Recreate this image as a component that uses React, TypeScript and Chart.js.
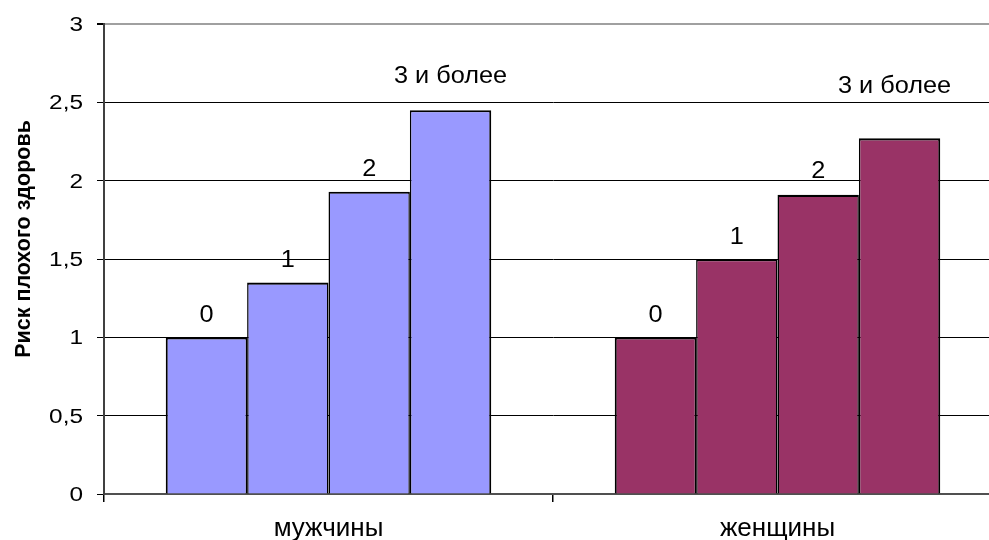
import { useEffect, useRef } from 'react';
import { Chart, registerables } from 'chart.js';

Chart.register(...registerables);

// Health-risk ratios by sex and number of risk factors
const categories = ['мужчины', 'женщины'];
const riskGroups = ['0', '1', '2', '3 и более'];
const menRisk = [1.0, 1.35, 1.93, 2.45];
const womenRisk = [1.0, 1.5, 1.91, 2.27];
const yTickLabels = ['0', '0,5', '1', '1,5', '2', '2,5', '3'];
const yAxisTitle = 'Риск плохого здоровь';

const FONT = '"Liberation Sans", Arial, sans-serif';
const sexColors = ['#9999FF', '#993366'];

// distance of each group label above its bar top, and horizontal nudges
const labelLift = [
  [24, 24, 24, 35],
  [24, 23, 25, 54],
];
const labelShift = [
  [0, 0, 0, 0],
  [0, 0, 0, -5],
];

function drawText(
  ctx: CanvasRenderingContext2D,
  text: string,
  x: number,
  y: number,
  font: string,
  align: CanvasTextAlign,
  sx: number
) {
  ctx.save();
  ctx.translate(x, y);
  ctx.scale(sx, 1);
  ctx.font = font;
  ctx.fillStyle = '#000';
  ctx.textAlign = align;
  ctx.textBaseline = 'alphabetic';
  ctx.fillText(text, 0, 0);
  ctx.restore();
}

const textPlugin = {
  id: 'chartText',
  afterDatasetsDraw(chart: any) {
    const ctx: CanvasRenderingContext2D = chart.ctx;
    const area = chart.chartArea;
    const yScale = chart.scales.y;
    const xScale = chart.scales.x;

    // value axis labels
    const tickSize = 19.5;
    yScale.ticks.forEach((t: any, i: number) => {
      const py = yScale.getPixelForValue(t.value);
      drawText(ctx, yTickLabels[i], area.left - 21, py + 0.358 * tickSize, `${tickSize}px ${FONT}`, 'right', 1.25);
    });

    // category labels
    categories.forEach((c, i) => {
      const px = xScale.getPixelForValue(i);
      drawText(ctx, c, px, area.bottom + 42, `26px ${FONT}`, 'center', 1);
    });

    // group labels above bars
    const lblSize = 23;
    riskGroups.forEach((g, i) => {
      const meta = chart.getDatasetMeta(i);
      meta.data.forEach((bar: any, j: number) => {
        const cy = bar.y - labelLift[j][i];
        drawText(ctx, g, bar.x + labelShift[j][i], cy + 0.358 * lblSize, `${lblSize}px ${FONT}`, 'center', 1.1);
      });
    });

    // rotated value-axis title
    ctx.save();
    ctx.translate(29.5, area.top + 215);
    ctx.rotate(-Math.PI / 2);
    ctx.font = `bold 21.5px ${FONT}`;
    ctx.fillStyle = '#000';
    ctx.textAlign = 'center';
    ctx.textBaseline = 'alphabetic';
    ctx.fillText(yAxisTitle, 0, 0);
    ctx.restore();
  },
};

export default function App() {
  const canvasRef = useRef<HTMLCanvasElement | null>(null);

  useEffect(() => {
    if (!canvasRef.current) return;
    const last = riskGroups.length - 1;
    const datasets = riskGroups.map((g, i) => ({
      label: g,
      data: [menRisk[i], womenRisk[i]],
      backgroundColor: sexColors,
      borderColor: '#000',
      borderWidth: { top: 2.2, left: i === 0 ? 2 : 1.5, right: i === last ? 2 : 1.5, bottom: 0 },
      inflateAmount: 0,
      categoryPercentage: 0.725,
      barPercentage: 1,
    }));

    const chart = new Chart(canvasRef.current, {
      type: 'bar',
      data: { labels: categories, datasets },
      plugins: [textPlugin],
      options: {
        animation: false,
        responsive: false,
        devicePixelRatio: 1,
        layout: { padding: { top: 24, left: 0, right: 0, bottom: 0 } },
        plugins: {
          legend: { display: false },
          tooltip: { enabled: false },
        },
        scales: {
          x: {
            ticks: { display: false },
            grid: {
              display: true,
              offset: true,
              drawOnChartArea: false,
              drawTicks: true,
              tickLength: 8,
              color: '#000',
              lineWidth: 1.5,
            },
            border: { display: true, color: '#505050', width: 2 },
            afterFit: (scale: any) => {
              scale.height = 46;
            },
          },
          y: {
            min: 0,
            max: 3,
            ticks: { display: false, stepSize: 0.5 },
            grid: {
              drawTicks: true,
              tickLength: 7,
              color: (c: any) => (c.tick && c.tick.value === 3 ? '#a0a0a0' : '#000'),
              tickColor: '#000',
              lineWidth: (c: any) => (c.tick && c.tick.value === 3 ? 2 : 1),
            },
            border: { display: true, color: '#404040', width: 2 },
            afterFit: (scale: any) => {
              scale.width = 104;
            },
          },
        },
      },
    });
    return () => chart.destroy();
  }, []);

  return (
    <div
      style={{
        position: 'absolute',
        left: 0,
        top: 0,
        width: 989,
        height: 540,
        overflow: 'hidden',
        background: '#fff',
      }}
    >
      <canvas ref={canvasRef} width={1002} height={540} style={{ display: 'block' }} />
    </div>
  );
}
